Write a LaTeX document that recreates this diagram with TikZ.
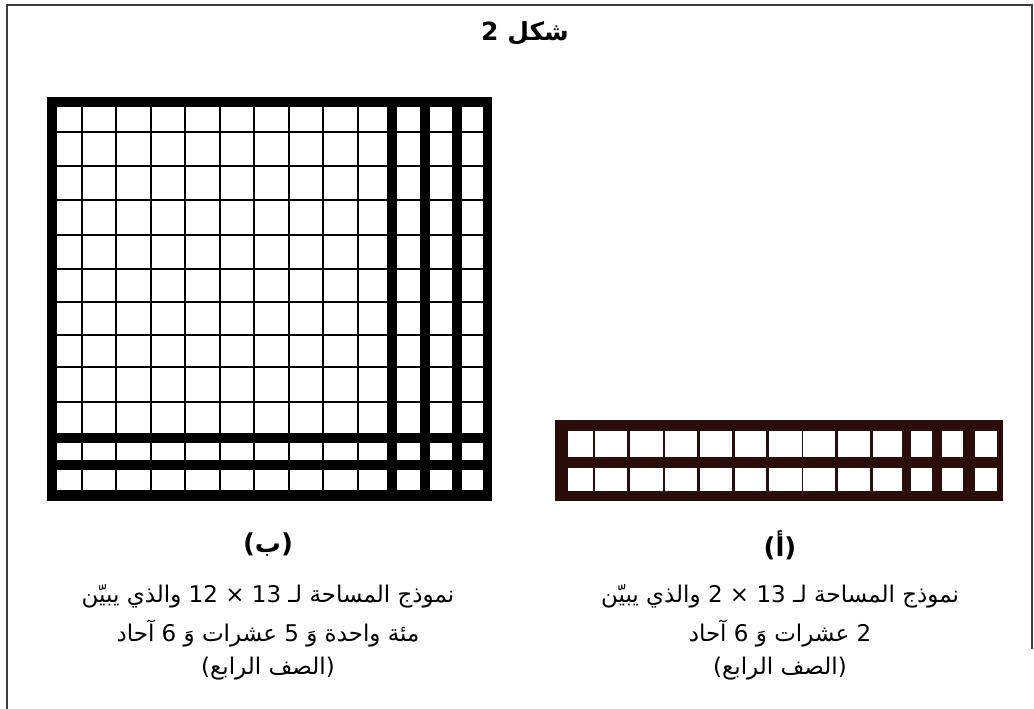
\documentclass[tikz,border=0pt]{standalone}
\usepackage{fontspec}
\setmainfont{DejaVu Sans}
\newfontfamily\arabicfont[Script=Arabic]{DejaVu Sans}
\TeXXeTstate=1
\definecolor{framegray}{RGB}{60,60,60}
\definecolor{maroon}{RGB}{42,12,8}
\tikzset{
  captext/.style={inner sep=0pt, font=\arabicfont\fontsize{23}{27}\selectfont},
  labtext/.style={inner sep=0pt, font=\arabicfont\bfseries\fontsize{26}{30}\selectfont},
  titletext/.style={inner sep=0pt, font=\arabicfont\bfseries\fontsize{25}{29}\selectfont},
  thinline/.style={black, line width=1.8pt},
  cell/.style={fill=white}
}
\begin{document}
\begin{tikzpicture}[x=1pt,y=-1pt]
\useasboundingbox (0,0) rectangle (1034,709);
% frame
\draw[framegray, line width=2pt] (7,709) -- (7,5) -- (1032,5) -- (1032,649);

% title
\node[titletext] (title) at (525,33) {\beginR شكل 2\endR};

% ---------- left grid (b) ----------
\fill[black] (47,97) rectangle (492,501);
\foreach \xa/\xb in {57.3/387, 397.3/420, 430/451.7, 462/483.3}
  \foreach \ya/\yb in {107.3/433.3, 443.3/460, 470/490}
    \fill[cell] (\xa,\ya) rectangle (\xb,\yb);
\foreach \x in {82.3,116,151,185,220,254,289,323,358}
  \draw[thinline] (\x,97) -- (\x,501);
\foreach \y in {132.3,166,200,235,269,301.7,335,366.7,401.7}
  \draw[thinline] (47,\y) -- (492,\y);

% ---------- right grid (a) ----------
\fill[maroon] (555,420) rectangle (1003.3,500.7);
\foreach \xa/\xb in {568.3/592.7, 595/627.3, 630/662.7, 665/696.7, 700/731.7, 735/766, 769.3/801.7, 803.3/835, 837.7/870, 872.7/901.7, 910.7/931.7, 941.7/962.7, 975/996.7}
  \foreach \ya/\yb in {430.7/456.7, 468.3/491}
    \fill[cell] (\xa,\ya) rectangle (\xb,\yb);

% ---------- captions ----------
\node[labtext] (labB) at (268,545) {\beginR (ب)\endR};
\node[captext] (capB1) at (268,596) {\beginR نموذج المساحة لـ 13 × 12 والذي يبيّن\endR};
\node[captext] (capB2) at (268,634) {\beginR مئة واحدة وَ 5 عشرات وَ 6 آحاد\endR};
\node[captext] (capB3) at (268,669) {\beginR (الصف الرابع)\endR};

\node[labtext] (labA) at (780,545) {\beginR (أ)\endR};
\node[captext] (capA1) at (780,596) {\beginR نموذج المساحة لـ 13 × 2 والذي يبيّن\endR};
\node[captext] (capA2) at (780,634) {\beginR 2 عشرات وَ 6 آحاد\endR};
\node[captext] (capA3) at (780,669) {\beginR (الصف الرابع)\endR};
\end{tikzpicture}
\end{document}
